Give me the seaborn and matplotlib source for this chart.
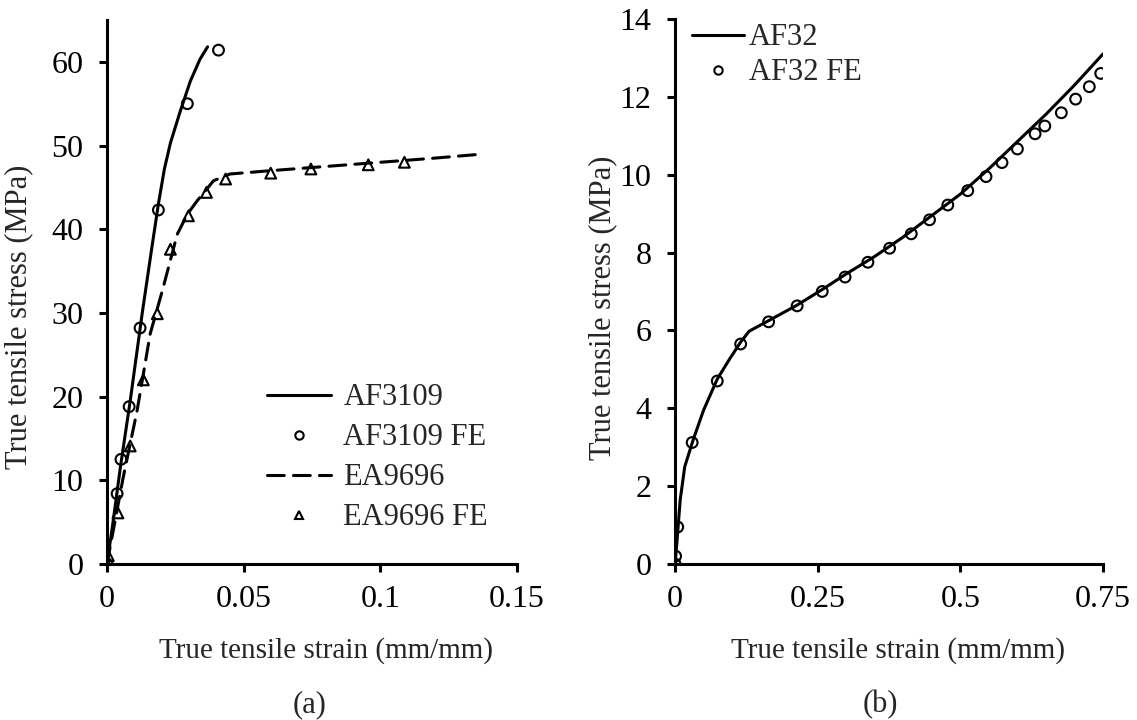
import matplotlib
matplotlib.use('Agg')
import matplotlib.pyplot as plt
from matplotlib.lines import Line2D
import seaborn as sns

# (a) AF3109 and EA9696 stress-strain curves
af3109_strain = [0, 0.002, 0.005, 0.0085, 0.0129, 0.0165, 0.0188, 0.021, 0.0232, 0.0268, 0.0305, 0.034, 0.0368]
af3109_stress = [0, 4.5, 11.8, 19.5, 30.0, 38.0, 43.0, 47.2, 50.3, 54.1, 57.7, 60.3, 61.8]
af3109_fe_strain = [0, 0.0037, 0.0051, 0.0081, 0.0121, 0.0188, 0.0294, 0.0408]
af3109_fe_stress = [0, 8.4, 12.5, 18.8, 28.2, 42.3, 55.0, 61.4]

ea9696_strain = [0, 0.0059, 0.011, 0.0158, 0.0202, 0.0257, 0.0294, 0.033, 0.039, 0.045,
                 0.06, 0.08, 0.1, 0.12, 0.138]
ea9696_stress = [0, 10.3, 18.3, 27.5, 32.6, 39.4, 41.8, 43.4, 45.8, 46.6,
                 47.0, 47.5, 48.0, 48.5, 49.0]
ea9696_fe_strain = [0, 0.0005, 0.004, 0.0085, 0.0133, 0.0184, 0.0232, 0.0298, 0.0364, 0.0434,
                    0.0599, 0.0746, 0.0956, 0.1088]
ea9696_fe_stress = [0, 1.0, 6.1, 14.1, 22.0, 29.9, 37.6, 41.6, 44.4, 46.0,
                    46.7, 47.2, 47.7, 48.0]

# (b) AF32
af32_strain = [0, 0.003, 0.009, 0.017, 0.032, 0.05, 0.074, 0.095, 0.115, 0.13, 0.164, 0.214,
               0.258, 0.3, 0.35, 0.4, 0.45, 0.5, 0.55, 0.6, 0.65, 0.7, 0.75]
af32_stress = [0, 0.5, 1.64, 2.5, 3.2, 3.95, 4.75, 5.25, 5.7, 5.98, 6.25, 6.65,
               7.05, 7.45, 7.9, 8.4, 8.95, 9.5, 10.15, 10.85, 11.55, 12.3, 13.1]
af32_fe_strain = [0, 0.001, 0.0047, 0.030, 0.074, 0.115, 0.164, 0.214, 0.258, 0.298, 0.338, 0.376,
                  0.414, 0.446, 0.478, 0.513, 0.545, 0.573, 0.600, 0.631, 0.648, 0.677, 0.702,
                  0.726, 0.746]
af32_fe_stress = [0, 0.2, 0.95, 3.12, 4.70, 5.65, 6.22, 6.63, 7.0, 7.37, 7.75, 8.11,
                  8.48, 8.84, 9.22, 9.59, 9.95, 10.31, 10.66, 11.05, 11.25, 11.59, 11.94,
                  12.26, 12.60]

sns.set_style('ticks')
plt.rcParams['font.family'] = ['Liberation Serif', 'DejaVu Serif']

LW = 2.2
DASH = (5.5, 3.0)
fig = plt.figure(figsize=(11.37, 7.2), dpi=100)
ax1 = fig.add_axes([0.0941, 0.2167, 0.3606, 0.7555])
ax2 = fig.add_axes([0.5937, 0.2167, 0.3764, 0.7570])


def style_axis(ax):
    for s in ['top', 'right']:
        ax.spines[s].set_visible(False)
    for s in ['left', 'bottom']:
        ax.spines[s].set_linewidth(2.2)
        ax.spines[s].set_color('black')
    ax.tick_params(axis='both', direction='out', length=6, width=2.2, labelsize=23,
                   colors='black')
    ax.tick_params(axis='x', pad=9)
    ax.tick_params(axis='y', pad=11)
    ax.grid(False)


# ---- panel (a)
sns.lineplot(x=af3109_strain, y=af3109_stress, ax=ax1, color='black', lw=LW,
             sort=False, estimator=None)
sns.lineplot(x=ea9696_strain, y=ea9696_stress, ax=ax1, color='black', lw=LW,
             sort=False, estimator=None)
ax1.lines[-1].set_dashes(DASH)
ax1.lines[-1].set_dash_capstyle('round')
sns.scatterplot(x=af3109_fe_strain, y=af3109_fe_stress, ax=ax1, marker='o', s=60,
                facecolor='none', edgecolor='black', linewidth=1.5, zorder=3)
sns.scatterplot(x=ea9696_fe_strain, y=ea9696_fe_stress, ax=ax1, marker='^', s=60,
                facecolor='none', edgecolor='black', linewidth=1.5, zorder=3)
ax1.set_xlim(0, 0.15)
ax1.set_ylim(0, 65)
ax1.set_xticks([0, 0.05, 0.1, 0.15])
ax1.set_xticklabels(['0', '0.05', '0.1', '0.15'])
ax1.set_yticks([0, 10, 20, 30, 40, 50, 60])
ax1.set_xlabel('True tensile strain (mm/mm)', fontsize=21)
ax1.set_ylabel('True tensile stress (MPa)', fontsize=22)
ax1.xaxis.set_label_coords(0.534, -0.134)
ax1.yaxis.set_label_coords(-0.18, 0.455)
style_axis(ax1)

dash_handle = Line2D([], [], color='black', lw=LW, dashes=DASH, dash_capstyle='round')
h1 = [Line2D([], [], color='black', lw=LW),
      Line2D([], [], ls='none', marker='o', mfc='none', mec='black', ms=6, mew=1.5),
      dash_handle,
      Line2D([], [], ls='none', marker='^', mfc='none', mec='black', ms=6, mew=1.5)]
ax1.legend(h1, ['AF3109', 'AF3109 FE', 'EA9696', 'EA9696 FE'], loc='upper left',
           bbox_to_anchor=(0.39, 0.332), frameon=False, fontsize=22, handlelength=2.1,
           handletextpad=0.4, labelspacing=0.36, borderpad=0, borderaxespad=0)

# ---- panel (b)
sns.lineplot(x=af32_strain, y=af32_stress, ax=ax2, color='black', lw=LW,
             sort=False, estimator=None)
sns.scatterplot(x=af32_fe_strain, y=af32_fe_stress, ax=ax2, marker='o', s=60,
                facecolor='none', edgecolor='black', linewidth=1.5, zorder=3)
ax2.set_xlim(0, 0.75)
ax2.set_ylim(0, 14)
ax2.set_xticks([0, 0.25, 0.5, 0.75])
ax2.set_xticklabels(['0', '0.25', '0.5', '0.75'])
ax2.set_yticks([0, 2, 4, 6, 8, 10, 12, 14])
ax2.set_xlabel('True tensile strain (mm/mm)', fontsize=21)
ax2.set_ylabel('True tensile stress (MPa)', fontsize=22)
ax2.xaxis.set_label_coords(0.52, -0.134)
ax2.yaxis.set_label_coords(-0.1355, 0.47)
style_axis(ax2)

h2 = [Line2D([], [], color='black', lw=LW),
      Line2D([], [], ls='none', marker='o', mfc='none', mec='black', ms=6, mew=1.5)]
ax2.legend(h2, ['AF32', 'AF32 FE'], loc='upper left', bbox_to_anchor=(0.04, 0.992),
           frameon=False, fontsize=22, handlelength=1.7, handletextpad=0.15,
           labelspacing=0.2, borderpad=0, borderaxespad=0)

fig.text(310 / 1137, 0.021, '(a)', ha='center', va='center', fontsize=22)
fig.text(880 / 1137, 0.021, '(b)', ha='center', va='center', fontsize=22)

fig.savefig('out.png', dpi=100, facecolor='white')
